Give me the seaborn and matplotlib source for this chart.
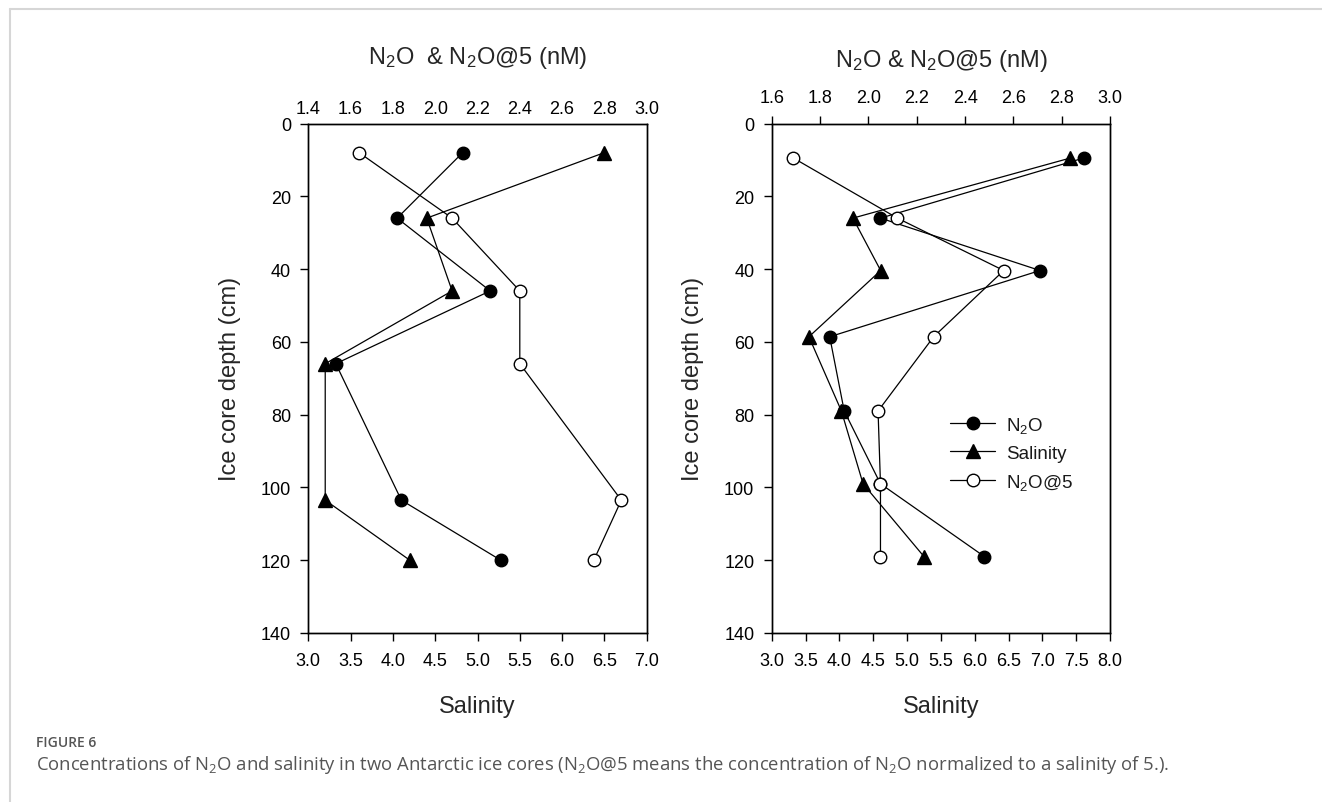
import matplotlib
matplotlib.use("Agg")
import matplotlib.pyplot as plt
from matplotlib.lines import Line2D
import numpy as np
import pandas as pd
import seaborn as sns

# ---------------- data ----------------
depth_left = [8, 26, 46, 66, 103.5, 120]
n2o_left = [2.13, 1.82, 2.26, 1.53, 1.84, 2.31]
salinity_left = [6.5, 4.4, 4.7, 3.2, 3.2, 4.2]
n2o5_left = [1.64, 2.08, 2.40, 2.40, 2.88, 2.75]

depth_right = [9.5, 26, 40.4, 58.6, 79, 99, 119]
n2o_right = [2.89, 2.05, 2.71, 1.84, 1.90, 2.05, 2.48]
salinity_right = [7.41, 4.20, 4.61, 3.55, 4.03, 4.35, 5.25]
n2o5_right = [1.69, 2.12, 2.56, 2.27, 2.04, 2.05, 2.05]

sal_ticks_left = [3.0, 3.5, 4.0, 4.5, 5.0, 5.5, 6.0, 6.5, 7.0]
n2o_ticks_left = [1.4, 1.6, 1.8, 2.0, 2.2, 2.4, 2.6, 2.8, 3.0]
sal_ticks_right = [3.0, 3.5, 4.0, 4.5, 5.0, 5.5, 6.0, 6.5, 7.0, 7.5, 8.0]
n2o_ticks_right = [1.6, 1.8, 2.0, 2.2, 2.4, 2.6, 2.8, 3.0]
depth_ticks = [0, 20, 40, 60, 80, 100, 120, 140]

N2O = "N$\\mathregular{_2}$O"
label_n2o = N2O
label_sal = "Salinity"
label_n2o5 = N2O + "@5"
title_left = N2O + "  & " + N2O + "@5 (nM)"
title_right = N2O + " & " + N2O + "@5 (nM)"
ylabel = "Ice core depth (cm)"
xlabel = "Salinity"
fig_label = "FIGURE 6"
caption = ("Concentrations of " + N2O + " and salinity in two Antarctic ice cores ("
           + N2O + "@5 means the concentration of " + N2O
           + " normalized to a salinity of 5.).")

# ---------------- style ----------------
sns.set_theme(style="ticks")
plt.rcParams["font.family"] = ["Liberation Sans", "DejaVu Sans"]
plt.rcParams["axes.edgecolor"] = "black"
plt.rcParams["axes.linewidth"] = 1.0
plt.rcParams["xtick.color"] = "black"
plt.rcParams["ytick.color"] = "black"
plt.rcParams["text.color"] = "#1a1a1a"

W, H = 1322, 803
fig = plt.figure(figsize=(W / 100, H / 100), dpi=100)
fig.patch.set_facecolor("white")

ax_w = 338.4 / W
ax_h = 509.5 / H
ax_b = (H - 634) / H
ax_l = fig.add_axes([308.3 / W, ax_b, ax_w, ax_h])
ax_r = fig.add_axes([771.7 / W, ax_b, ax_w, ax_h])


def panel(ax, depth, n2o, sal, n2o5, sal_ticks, n2o_ticks, top_ticks_visible, title, title_y):
    df = pd.DataFrame({"depth": depth, "N2O": n2o, "Salinity": sal, "N2O5": n2o5})
    ax2 = ax.twiny()
    common = dict(sort=False, estimator=None, color="black", linewidth=0.9,
                  markeredgecolor="black", markeredgewidth=1.0, legend=False)
    sns.lineplot(data=df, x="Salinity", y="depth", ax=ax, marker="^", markersize=10.5,
                 markerfacecolor="black", label=label_sal, **common)
    sns.lineplot(data=df, x="N2O", y="depth", ax=ax2, marker="o", markersize=9,
                 markerfacecolor="black", label=label_n2o, **common)
    sns.lineplot(data=df, x="N2O5", y="depth", ax=ax2, marker="o", markersize=9,
                 markerfacecolor="white", label=label_n2o5, **common)

    ax.set_ylim(140, 0)
    ax.set_yticks(depth_ticks)
    ax.set_yticklabels([str(t) for t in depth_ticks])
    ax.set_xlim(sal_ticks[0], sal_ticks[-1])
    ax.set_xticks(sal_ticks)
    ax.set_xticklabels(["%.1f" % t for t in sal_ticks])
    ax2.set_xlim(n2o_ticks[0], n2o_ticks[-1])
    ax2.set_xticks(n2o_ticks)
    ax2.set_xticklabels(["%.1f" % t for t in n2o_ticks])
    ax2.set_ylim(140, 0)

    ax.tick_params(axis="y", direction="out", length=6, width=1, labelsize=13, pad=6.5)
    ax.tick_params(axis="x", direction="out", length=6, width=1, labelsize=13, pad=8)
    if top_ticks_visible:
        ax2.tick_params(axis="x", direction="out", length=6, width=1, labelsize=13, pad=6.5)
    else:
        ax2.tick_params(axis="x", direction="out", length=0, width=1, labelsize=13, pad=4.5)

    for a in (ax, ax2):
        for s in a.spines.values():
            s.set_visible(True)
            s.set_color("black")
            s.set_linewidth(1.0)

    ax.set_ylabel(ylabel, fontsize=17)
    ax.yaxis.set_label_coords(-0.2, 0.5)
    ax.set_xlabel(xlabel, fontsize=17)
    ax.xaxis.set_label_coords(0.5, -0.122)
    ax2.set_xlabel(title, fontsize=17)
    ax2.xaxis.set_label_coords(0.5, title_y)
    return ax2


ax2_l = panel(ax_l, depth_left, n2o_left, salinity_left, n2o5_left,
              sal_ticks_left, n2o_ticks_left, False, title_left, 1.118)
ax2_r = panel(ax_r, depth_right, n2o_right, salinity_right, n2o5_right,
              sal_ticks_right, n2o_ticks_right, True, title_right, 1.112)

# legend (right panel), order N2O, Salinity, N2O@5
h1, l1 = ax_r.get_legend_handles_labels()
h2, l2 = ax2_r.get_legend_handles_labels()
hd = dict(zip(l1 + l2, h1 + h2))
order = [label_n2o, label_sal, label_n2o5]
ax2_r.legend([hd[k] for k in order], order, loc="upper left",
             bbox_to_anchor=(950 / W, 1 - 416 / H), bbox_transform=fig.transFigure,
             frameon=False, fontsize=13.5, handlelength=2.4, handletextpad=0.6,
             labelspacing=0.52, borderpad=0, borderaxespad=0, numpoints=1)

# page frame lines
fig.add_artist(Line2D([9.5 / W, 1.0], [1 - 10 / H, 1 - 10 / H], transform=fig.transFigure,
                      color="#d6d6d6", linewidth=1.5))
fig.add_artist(Line2D([9.5 / W, 9.5 / W], [0.0, 1 - 10 / H], transform=fig.transFigure,
                      color="#d6d6d6", linewidth=1.5))

# caption
fig.text(36 / W, 1 - 743 / H, fig_label, fontsize=10, fontweight="semibold",
         color="#555555", family=["Open Sans", "DejaVu Sans"], va="center", ha="left")
fig.text(36 / W, 1 - 765 / H, caption, fontsize=13.3, color="#555555",
         family=["Open Sans", "DejaVu Sans"], va="center", ha="left")

fig.savefig("out.png", dpi=100, facecolor="white")
